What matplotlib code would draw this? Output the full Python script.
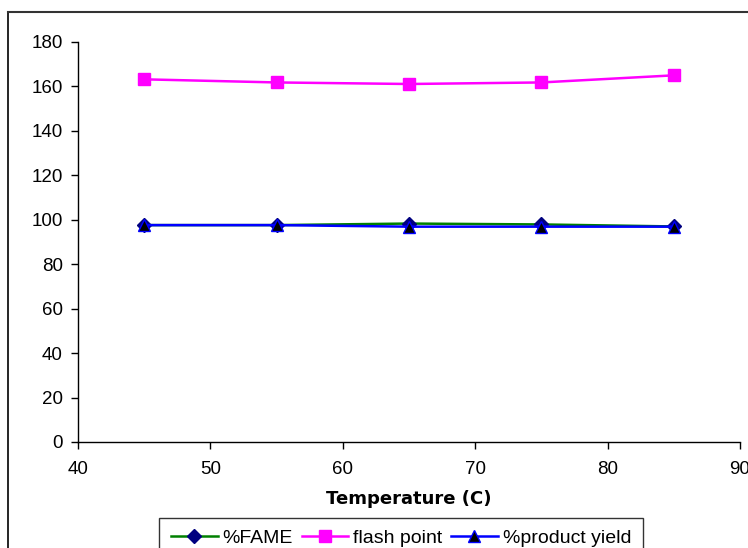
import matplotlib
matplotlib.use("Agg")
import matplotlib.pyplot as plt
from matplotlib.lines import Line2D

# Reaction temperature (C)
temperature = [45, 55, 65, 75, 85]

# Measured responses
fame = [97.6, 97.6, 98.3, 97.9, 97.0]
flash_point = [163.2, 161.8, 161.1, 161.8, 165.0]
product_yield = [97.6, 97.6, 96.9, 96.9, 96.9]

x_ticks = [40, 50, 60, 70, 80, 90]
y_ticks = [0, 20, 40, 60, 80, 100, 120, 140, 160, 180]

plt.rcParams['font.family'] = ['Liberation Sans', 'DejaVu Sans']

W, H = 748, 548
fig = plt.figure(figsize=(W / 100, H / 100), dpi=100)
ax = fig.add_axes([78 / W, 1 - 442 / H, (740 - 78) / W, (442 - 42) / H])

ax.plot(temperature, fame, color='#008000', lw=1.8, marker='D', ms=7,
        mfc='#000080', mec='#000080', label='%FAME', zorder=3)
ax.plot(temperature, flash_point, color='#FF00FF', lw=1.8, marker='s', ms=8.5,
        mfc='#FF00FF', mec='#FF00FF', label='flash point', zorder=3)
ax.plot(temperature, product_yield, color='#0000FF', lw=1.8, marker='^', ms=9,
        mfc='black', mec='#0000FF', mew=1.0, label='%product yield', zorder=4)

ax.set_xlim(40, 90)
ax.set_ylim(0, 180)
ax.set_xticks(x_ticks)
ax.set_yticks(y_ticks)
ax.tick_params(axis='both', direction='out', length=5, width=1,
               labelsize=13.5, colors='black')
ax.tick_params(axis='y', pad=6)
ax.tick_params(axis='x', pad=9)
for side in ('top', 'right'):
    ax.spines[side].set_visible(False)
for side in ('left', 'bottom'):
    ax.spines[side].set_linewidth(1)
ax.patch.set_alpha(0)

ax.set_xlabel('Temperature (C)', fontsize=13, fontweight='bold',
              family='DejaVu Sans', labelpad=8)

leg = fig.legend(loc='upper center', bbox_to_anchor=(401 / W, 1 - 518 / H),
                 ncol=3, prop={'family': 'Liberation Sans', 'size': 14},
                 frameon=True, fancybox=False,
                 edgecolor='black', handlelength=2.4, handletextpad=0.25,
                 columnspacing=0.45, borderpad=0.6, borderaxespad=0)
leg.get_frame().set_linewidth(1)

# Outer chart-area frame
fig.add_artist(Line2D([8 / W, 8 / W], [0, 1 - 12 / H], color='black', lw=1.2,
                      transform=fig.transFigure))
fig.add_artist(Line2D([8 / W, 1], [1 - 12 / H, 1 - 12 / H], color='#333333', lw=1.5,
                      transform=fig.transFigure))

fig.savefig('out.png', dpi=100, facecolor='white')
